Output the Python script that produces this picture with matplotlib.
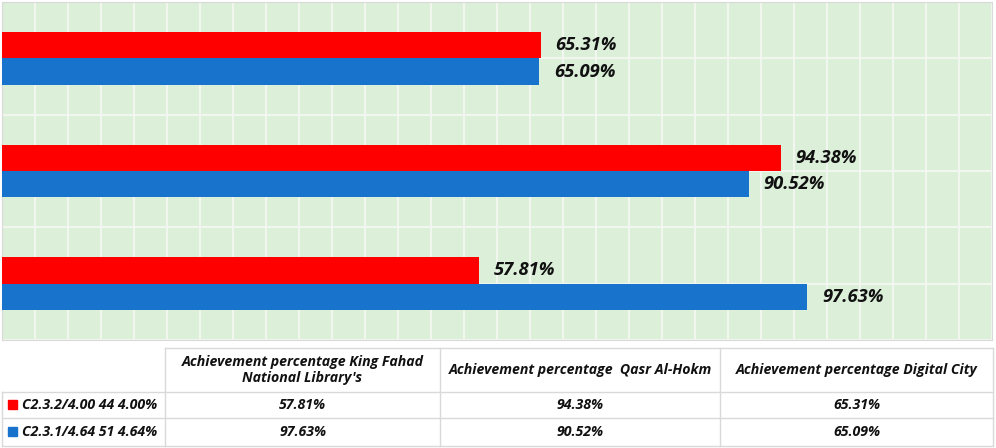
import numpy as np
import matplotlib.pyplot as plt

plt.rcParams['font.family'] = ['Open Sans', 'DejaVu Sans']

# data (bottom to top in the chart, left to right in the table)
categories = ["Achievement percentage King Fahad\nNational Library's",
              "Achievement percentage  Qasr Al-Hokm",
              "Achievement percentage Digital City"]
series_names = ["C2.3.2/4.00 44 4.00%", "C2.3.1/4.64 51 4.64%"]
red_vals = [57.81, 94.38, 65.31]
blue_vals = [97.63, 90.52, 65.09]
colors = ['#ff0000', '#1873cc']

fig = plt.figure(figsize=(9.96, 4.48), dpi=100)
ax = fig.add_axes([2 / 996, 1 - 340 / 448, 990 / 996, 338 / 448])
ax.set_facecolor('#dcefd9')

y = np.arange(len(categories))
h = 0.235
ax.barh(y + h / 2, red_vals, height=h, color=colors[0], zorder=3)
ax.barh(y - h / 2, blue_vals, height=h, color=colors[1], zorder=3)

bar_font = dict(fontsize=13.2, fontweight='bold', style='italic', color='#111111')
for yy, v in zip(y + h / 2, red_vals):
    ax.text(v + 1.8, yy, f'{v:.2f}%', va='center', ha='left', zorder=4, **bar_font)
for yy, v in zip(y - h / 2, blue_vals):
    ax.text(v + 1.8, yy, f'{v:.2f}%', va='center', ha='left', zorder=4, **bar_font)

ax.set_xlim(0, 120)
ax.set_ylim(-0.5, 2.5)
ax.set_xticks(np.arange(0, 121, 4))
ax.set_yticks(np.arange(-0.5, 2.6, 0.5))
ax.grid(True, color='#f4f7f2', linewidth=1.3, zorder=1)
ax.tick_params(left=False, bottom=False, labelleft=False, labelbottom=False)
for s in ax.spines.values():
    s.set_color('#d9d9d9')

# data table below the chart, drawn in pixel coordinates
tab = fig.add_axes([0, 0, 1, 1], zorder=-1)
tab.set_xlim(0, 996)
tab.set_ylim(448, 0)
tab.axis('off')

col_x = [2, 165, 440, 720, 993]
row_y = [348, 392, 418, 446]
lc = '#d9d9d9'
tab.plot([col_x[1], col_x[-1]], [row_y[0]] * 2, color=lc, lw=1)
for ry in row_y[1:]:
    tab.plot([col_x[0], col_x[-1]], [ry] * 2, color=lc, lw=1)
for cx in col_x[1:]:
    tab.plot([cx, cx], [row_y[0], row_y[-1]], color=lc, lw=1)
tab.plot([col_x[0]] * 2, [row_y[1], row_y[-1]], color=lc, lw=1)

tab_font = dict(fontsize=10.2, fontweight='bold', style='italic', color='#111111')
for i, cat in enumerate(categories):
    cx = (col_x[i + 1] + col_x[i + 2]) / 2
    tab.text(cx, (row_y[0] + row_y[1]) / 2, cat, ha='center', va='center',
             linespacing=1.25, **tab_font)
    tab.text(cx, (row_y[1] + row_y[2]) / 2, f'{red_vals[i]:.2f}%', ha='center',
             va='center', **tab_font)
    tab.text(cx, (row_y[2] + row_y[3]) / 2, f'{blue_vals[i]:.2f}%', ha='center',
             va='center', **tab_font)

for j, name in enumerate(series_names):
    cy = (row_y[j + 1] + row_y[j + 2]) / 2
    tab.add_patch(plt.Rectangle((8, cy - 5), 9, 9, color=colors[j]))
    tab.text(22, cy, name, ha='left', va='center', **tab_font)

fig.savefig('out.png', dpi=100, facecolor='white')
